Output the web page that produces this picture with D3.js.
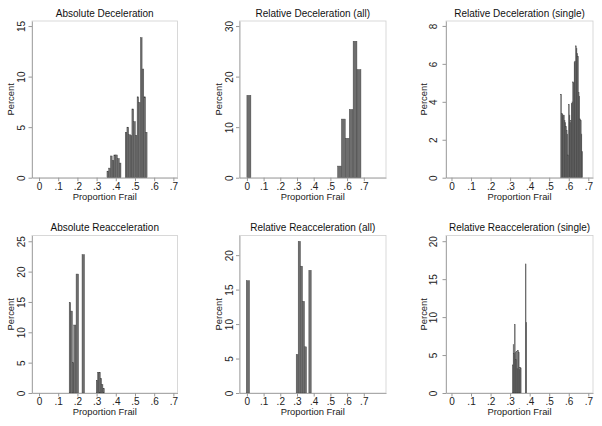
<!DOCTYPE html>
<html>
<head>
<meta charset="utf-8">
<script src="https://cdn.jsdelivr.net/npm/d3@7"></script>
<style>
  body { margin: 0; background: #fff; }
  text { font-family: "Liberation Sans", Arial, sans-serif; }
</style>
</head>
<body>
<svg id="chart" width="602" height="426"></svg>
<script>
// bins as [lower edge, upper edge, percent]
const absDecel = [
  [0.354, 0.363, 0.65], [0.363, 0.372, 0.95], [0.372, 0.381, 2.15], [0.381, 0.390, 1.7],
  [0.390, 0.399, 2.25], [0.399, 0.408, 2.25], [0.408, 0.418, 1.9], [0.418, 0.427, 1.45],
  [0.449, 0.458, 4.5], [0.458, 0.467, 5.0], [0.467, 0.475, 4.25], [0.475, 0.484, 4.15],
  [0.484, 0.493, 6.8], [0.493, 0.502, 5.55], [0.502, 0.511, 4.2], [0.511, 0.519, 8.0],
  [0.519, 0.528, 7.45], [0.528, 0.537, 13.85], [0.537, 0.546, 10.75], [0.546, 0.555, 8.0],
  [0.555, 0.563, 4.5]
]
const relDecelAll = [
  [0.0, 0.024, 16.3], [0.543, 0.566, 2.3], [0.566, 0.589, 11.6], [0.589, 0.613, 7.8],
  [0.613, 0.636, 13.5], [0.636, 0.659, 27.0], [0.659, 0.683, 21.4]
]
const relDecelSingle = [
  [0.5590, 0.5626, 4.4], [0.5626, 0.5662, 3.4], [0.5662, 0.5698, 3.35], [0.5698, 0.5734, 3.25],
  [0.5734, 0.5770, 3.3], [0.5770, 0.5806, 3.0], [0.5806, 0.5842, 2.9], [0.5842, 0.5878, 2.7],
  [0.5878, 0.5914, 2.5], [0.5914, 0.5950, 2.3], [0.5950, 0.5986, 1.2], [0.5986, 0.6022, 3.85],
  [0.6022, 0.6058, 3.3], [0.6058, 0.6094, 2.9], [0.6094, 0.6130, 3.0], [0.6130, 0.6166, 3.9],
  [0.6166, 0.6202, 4.0], [0.6202, 0.6238, 5.05], [0.6238, 0.6274, 5.0], [0.6274, 0.6310, 6.1],
  [0.6310, 0.6346, 6.15], [0.6346, 0.6382, 6.95], [0.6382, 0.6418, 6.8], [0.6418, 0.6454, 6.55],
  [0.6454, 0.6490, 6.4], [0.6490, 0.6526, 4.5], [0.6526, 0.6562, 4.3], [0.6562, 0.6598, 3.1],
  [0.6598, 0.6634, 3.0], [0.6634, 0.6670, 2.3], [0.6670, 0.6706, 1.37]
]
const absReacc = [
  [0.157, 0.165, 14.9], [0.165, 0.174, 13.5], [0.174, 0.181, 5.0], [0.181, 0.192, 11.2],
  [0.193, 0.206, 19.6], [0.224, 0.237, 22.8],
  [0.298, 0.305, 2.1], [0.305, 0.312, 3.4], [0.312, 0.319, 3.4], [0.319, 0.326, 2.4],
  [0.326, 0.333, 1.4], [0.333, 0.340, 0.7]
]
const relReaccAll = [
  [-0.004, 0.016, 16.3], [0.295, 0.307, 5.6], [0.307, 0.321, 22.0], [0.321, 0.333, 18.4],
  [0.333, 0.345, 13.3], [0.345, 0.357, 6.7], [0.371, 0.385, 17.8]
]
const relReaccSingle = [
  [0.3120, 0.3154, 3.7], [0.3154, 0.3188, 6.4], [0.3188, 0.3222, 5.2], [0.3222, 0.3256, 9.0],
  [0.3256, 0.3290, 5.4], [0.3290, 0.3324, 4.4], [0.3324, 0.3358, 5.5], [0.3358, 0.3392, 3.2],
  [0.3392, 0.3426, 5.6], [0.3426, 0.3460, 5.3], [0.3460, 0.3494, 3.1], [0.3494, 0.3528, 3.4],
  [0.3528, 0.3562, 3.3], [0.3780, 0.3814, 17.0], [0.3814, 0.3848, 9.3]
]

const xTicks = [0, 0.1, 0.2, 0.3, 0.4, 0.5, 0.6, 0.7]

const panels = [
  { title: "Absolute Deceleration", bins: absDecel, yTicks: [0, 5, 10, 15], yMax: 15.5, row: 0, col: 0 },
  { title: "Relative Deceleration (all)", bins: relDecelAll, yTicks: [0, 10, 20, 30], yMax: 31, row: 0, col: 1 },
  { title: "Relative Deceleration (single)", bins: relDecelSingle, yTicks: [0, 2, 4, 6, 8], yMax: 8.26, row: 0, col: 2 },
  { title: "Absolute Reacceleration", bins: absReacc, yTicks: [0, 5, 10, 15, 20, 25], yMax: 25.95, row: 1, col: 0 },
  { title: "Relative Reacceleration (all)", bins: relReaccAll, yTicks: [0, 5, 10, 15, 20], yMax: 22.85, row: 1, col: 1 },
  { title: "Relative Reacceleration (single)", bins: relReaccSingle, yTicks: [0, 5, 10, 15, 20], yMax: 20.75, row: 1, col: 2 }
]

// plot regions
const cols = [
  { left: 32, right: 177.5, domain: [-0.0366, 0.7215], tickGap: 10.5, titleGap: 21 },
  { left: 239.5, right: 386, domain: [-0.0443, 0.8330], tickGap: 10, titleGap: 20.5 },
  { left: 446, right: 593, domain: [-0.028, 0.724], tickGap: 12.5, titleGap: 22.5 }
]
const rows = [
  { top: 21, bottom: 177.7 },
  { top: 235.5, bottom: 393 }
]

const fmtX = d => d === 0 ? "0" : d3.format(".1f")(d).replace(/^0/, "")

const svg = d3.select("#chart")

panels.forEach(p => {
  const c = cols[p.col]
  const r = rows[p.row]
  const x = d3.scaleLinear().domain(c.domain).range([c.left, c.right])
  const y = d3.scaleLinear().domain([0, p.yMax]).range([r.bottom, r.top])
  const g = svg.append("g")

  // frame
  g.append("rect")
    .attr("x", c.left).attr("y", r.top)
    .attr("width", c.right - c.left).attr("height", r.bottom - r.top)
    .attr("fill", "none").attr("stroke", "#cfcfcf").attr("stroke-width", 0.8)

  // bars
  g.selectAll("rect.bar")
    .data(p.bins)
    .join("rect")
    .attr("class", "bar")
    .attr("x", d => x(d[0]))
    .attr("width", d => x(d[1]) - x(d[0]))
    .attr("y", d => y(d[2]))
    .attr("height", d => y(0) - y(d[2]))
    .attr("fill", "#6e6e6e")
    .attr("stroke", "#3c3c3c")
    .attr("stroke-width", 0.4)

  // x axis
  const xAxis = d3.axisBottom(x).tickValues(xTicks).tickFormat(fmtX).tickSize(3.5).tickSizeOuter(0)
  const gx = g.append("g").attr("transform", `translate(0,${r.bottom})`).call(xAxis)
  gx.select(".domain").attr("stroke", "#999").attr("stroke-width", 0.8)
  gx.selectAll(".tick line").attr("stroke", "#999")
  gx.selectAll(".tick text")
    .attr("y", 12.3).attr("dy", 0)
    .attr("font-size", 10).attr("fill", "#222")
    .style("font-family", "'Liberation Sans', Arial, sans-serif")

  // y axis
  const yAxis = d3.axisLeft(y).tickValues(p.yTicks).tickSize(3.5).tickSizeOuter(0)
  const gy = g.append("g").attr("transform", `translate(${c.left},0)`).call(yAxis)
  gy.select(".domain").attr("stroke", "#999").attr("stroke-width", 0.8)
  gy.selectAll(".tick line").attr("stroke", "#999")
  gy.selectAll(".tick text")
    .attr("x", 0).attr("dy", 0)
    .attr("transform", `translate(${-c.tickGap + 3.6},0) rotate(-90)`)
    .attr("text-anchor", "middle")
    .attr("font-size", 10).attr("fill", "#222")
    .style("font-family", "'Liberation Sans', Arial, sans-serif")

  // titles
  g.append("text")
    .attr("x", (c.left + c.right) / 2).attr("y", r.top - 4.5)
    .attr("text-anchor", "middle").attr("font-size", 10).attr("fill", "#111")
    .text(p.title)

  g.append("text")
    .attr("x", (c.left + c.right) / 2).attr("y", r.bottom + 21.8)
    .attr("text-anchor", "middle").attr("font-size", 9.4).attr("fill", "#222")
    .text("Proportion Frail")

  g.append("text")
    .attr("transform", `translate(${c.left - c.titleGap + 3.3},${(r.top + r.bottom) / 2}) rotate(-90)`)
    .attr("text-anchor", "middle").attr("font-size", 9.4).attr("fill", "#222")
    .text("Percent")
})
</script>
</body>
</html>
